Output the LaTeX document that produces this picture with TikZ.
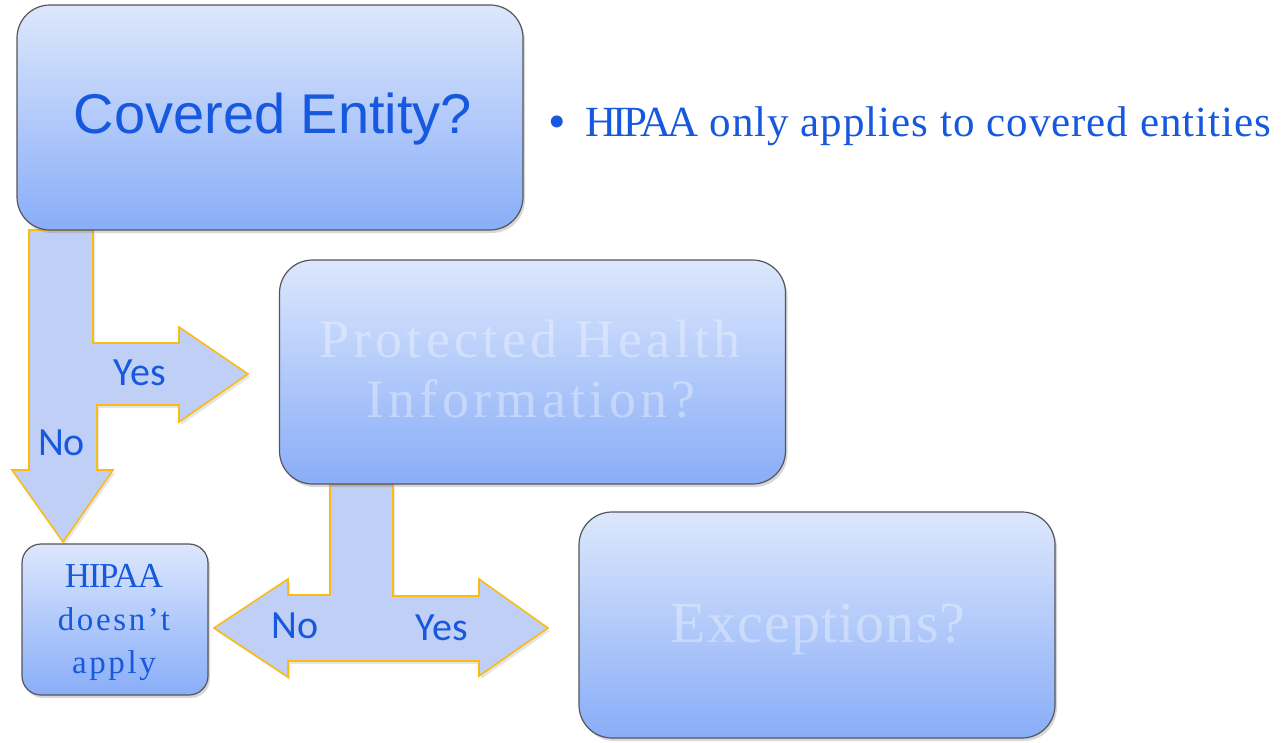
\documentclass[tikz,border=0pt]{standalone}
\usepackage{fontspec}
\setmainfont{Liberation Serif}
\newfontfamily\sansA{Liberation Sans}
\newfontfamily\calib{Carlito}
\newfontfamily\serifA[LetterSpace=2.3]{Liberation Serif}
\newfontfamily\serifB[LetterSpace=8]{Liberation Serif}
\newfontfamily\serifC[LetterSpace=2]{Liberation Serif}
\newfontfamily\serifN[LetterSpace=-4]{Liberation Serif}
\newfontfamily\serifT[LetterSpace=-8]{Liberation Serif}
\usetikzlibrary{shadows}
\definecolor{txtblue}{RGB}{22,88,222}
\definecolor{boxtop}{RGB}{220,231,252}
\definecolor{boxbot}{RGB}{137,173,248}
\definecolor{boxline}{RGB}{85,85,90}
\definecolor{arrfill}{RGB}{192,207,245}
\definecolor{arrline}{RGB}{250,188,20}
\tikzset{
  box/.style={draw=boxline, line width=1.2pt, top color=boxtop, bottom color=boxbot,
    inner sep=0pt, outer sep=0pt,
    drop shadow={opacity=0.3, shadow xshift=2pt, shadow yshift=-3pt}},
  blockarrow/.style={fill=arrfill, draw=arrline, line width=1.6pt, line join=miter,
    drop shadow={opacity=0.2, shadow xshift=2pt, shadow yshift=-3pt}},
  yn/.style={anchor=base, text=txtblue, inner sep=0pt, font=\calib\fontsize{40}{44}\selectfont},
  faint/.style={anchor=base, text=white, text opacity=0.35, inner sep=0pt},
  bluetxt/.style={anchor=base, text=txtblue, inner sep=0pt}
}
\begin{document}
\begin{tikzpicture}[x=1pt,y=-1pt]
\fill[white] (0,0) rectangle (1282,742);
\useasboundingbox (0,0) rectangle (1282,742);

% block arrows (under the boxes)
\path[blockarrow] (29,230) -- (93,230) -- (93,343) -- (179,343) -- (179,327) -- (248,374)
  -- (179,422) -- (179,405) -- (97,405) -- (97,470) -- (113,470) -- (63,542)
  -- (12,470) -- (29,470) -- cycle;
\path[blockarrow] (330,485) -- (393,485) -- (393,596) -- (479,596) -- (479,579) -- (548,628)
  -- (479,676) -- (479,661) -- (288,661) -- (288,677) -- (214,628) -- (288,579)
  -- (288,595) -- (330,595) -- cycle;

% boxes
\node[box, rounded corners=33pt, minimum width=506pt, minimum height=225pt] (ce) at (270,117.5) {};
\node[box, rounded corners=33pt, minimum width=506pt, minimum height=224pt] (phi) at (532.5,372) {};
\node[box, rounded corners=33pt, minimum width=476pt, minimum height=226pt] (exc) at (817,625) {};
\node[box, rounded corners=19pt, minimum width=186pt, minimum height=151pt] (na) at (115,619.5) {};

% texts
\node[bluetxt, font=\sansA\fontsize{56}{60}\selectfont] (cet) at (273,133) {Covered Entity?};
\node[bluetxt, font=\fontsize{50}{54}\selectfont] (bul) at (557,138) {•};
\node[bluetxt, anchor=base west, font=\fontsize{43}{48}\selectfont] (hint) at (585,136) {{\serifT HIPAA} \serifA only applies to covered entities};

\node[faint, font=\serifB\fontsize{54}{60}\selectfont] (phi1) at (530,357) {Protected Health};
\node[faint, font=\serifB\fontsize{54}{60}\selectfont] (phi2) at (531,417) {Information?};
\node[faint, font=\serifC\fontsize{58}{64}\selectfont] (exct) at (818,642) {Exceptions?};

\node[bluetxt, font=\serifN\fontsize{35}{40}\selectfont] (na1) at (114,587) {HIPAA};
\node[bluetxt, font=\serifB\fontsize{33}{40}\selectfont] (na2) at (114,630) {doesn’t};
\node[bluetxt, font=\serifB\fontsize{33}{40}\selectfont] (na3) at (114,673) {apply};

% yes / no labels
\node[yn] (yes1) at (140,385) {Yes};
\node[yn] (no1) at (61.5,455) {No};
\node[yn] (no2) at (295,638) {No};
\node[yn] (yes2) at (442,640) {Yes};
\end{tikzpicture}
\end{document}
